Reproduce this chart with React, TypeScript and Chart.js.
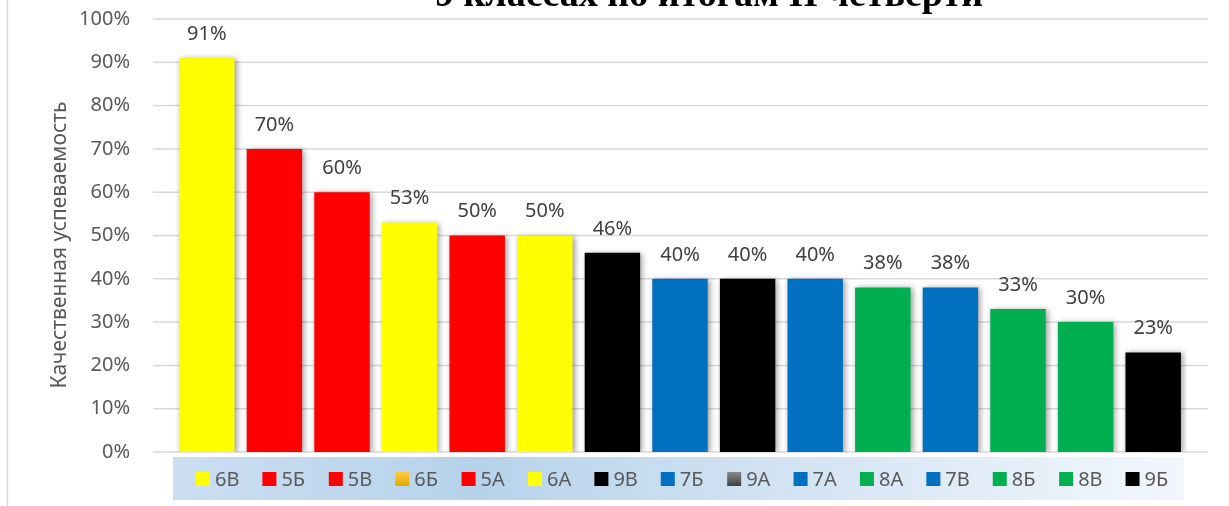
import React, { useEffect, useRef } from "react";
import { Chart, registerables } from "chart.js";

Chart.register(...registerables);

const categories = ["6В", "5Б", "5В", "6Б", "5А", "6А", "9В", "7Б", "9А", "7А", "8А", "7В", "8Б", "8В", "9Б"];
const values = [91, 70, 60, 53, 50, 50, 46, 40, 40, 40, 38, 38, 33, 30, 23];
const barColors = [
  "#FFFF00", "#FF0000", "#FF0000", "#FFFF00", "#FF0000", "#FFFF00", "#000000",
  "#0070C0", "#000000", "#0070C0", "#00B050", "#0070C0", "#00B050", "#00B050", "#000000",
];
// legend swatches: [top, bottom] gradient colours
const legendColors: [string, string][] = [
  ["#FFFF00", "#FFFF00"], ["#FF0000", "#FF0000"], ["#FF0000", "#FF0000"], ["#FFCB3D", "#E6A700"],
  ["#FF0000", "#FF0000"], ["#FFFF00", "#FFFF00"], ["#000000", "#000000"], ["#0070C0", "#0070C0"],
  ["#8A8A8A", "#404040"], ["#0070C0", "#0070C0"], ["#00B050", "#00B050"], ["#0070C0", "#0070C0"],
  ["#00B050", "#00B050"], ["#00B050", "#00B050"], ["#000000", "#000000"],
];
const yTickValues = [0, 10, 20, 30, 40, 50, 60, 70, 80, 90, 100];
const titleText = "9 классах по итогам II четверти";
const yAxisTitle = "Качественная успеваемость";

const FONT = "'Noto Sans', 'DejaVu Sans', sans-serif";

const decorPlugin = {
  id: "decor",
  beforeDraw(chart: any) {
    const { ctx, chartArea, height } = chart;
    ctx.save();
    // left border line
    ctx.strokeStyle = "#d9d9d9";
    ctx.lineWidth = 1.5;
    ctx.beginPath();
    ctx.moveTo(7.5, 0);
    ctx.lineTo(7.5, height);
    ctx.stroke();
    // title (cut off at top)
    ctx.fillStyle = "#000000";
    ctx.font = "bold 38px 'Liberation Serif', 'Times New Roman', serif";
    ctx.textAlign = "center";
    ctx.textBaseline = "alphabetic";
    ctx.fillText(titleText, 709, 5.5);
    // y axis title
    ctx.save();
    ctx.translate(60, 245);
    ctx.rotate(-Math.PI / 2);
    ctx.font = `21px ${FONT}`;
    ctx.fillStyle = "#595959";
    ctx.textAlign = "center";
    ctx.textBaseline = "middle";
    ctx.fillText(yAxisTitle, 0, 0);
    ctx.restore();
    // category strip
    const top = chartArea.bottom + 5;
    const h = 43;
    const g = ctx.createLinearGradient(chartArea.left, 0, chartArea.right, 0);
    g.addColorStop(0, "#cbdef1");
    g.addColorStop(0.3, "#b6d3eb");
    g.addColorStop(0.6, "#d3e3f3");
    g.addColorStop(1, "#f2f7fc");
    ctx.fillStyle = g;
    ctx.fillRect(chartArea.left, top, chartArea.width - 3, h);
    // legend items
    const step = chartArea.width * 0.06548;
    const cy = top + 22;
    ctx.font = `20px ${FONT}`;
    ctx.textAlign = "left";
    ctx.textBaseline = "middle";
    categories.forEach((c, i) => {
      const x = chartArea.left + 23 + i * step;
      const sg = ctx.createLinearGradient(0, cy - 7, 0, cy + 7);
      sg.addColorStop(0, legendColors[i][0]);
      sg.addColorStop(1, legendColors[i][1]);
      ctx.fillStyle = sg;
      ctx.fillRect(x, cy - 7, 14, 14);
      ctx.fillStyle = "#595959";
      ctx.fillText(c, x + 19, cy + 1);
    });
    ctx.restore();
  },
  beforeDatasetsDraw(chart: any) {
    const { ctx, chartArea, scales } = chart;
    ctx.save();
    ctx.strokeStyle = "#d9d9d9";
    ctx.lineWidth = 1.5;
    yTickValues.forEach((v) => {
      const y = scales.y.getPixelForValue(v);
      ctx.beginPath();
      ctx.moveTo(chartArea.left - 20, y);
      ctx.lineTo(chartArea.right + 21, y);
      ctx.stroke();
    });
    ctx.restore();
    ctx.save();
    ctx.shadowColor = "rgba(0,0,0,0.4)";
    ctx.shadowBlur = 6;
    ctx.shadowOffsetX = 2;
    ctx.shadowOffsetY = 1;
  },
  afterDatasetsDraw(chart: any) {
    const { ctx } = chart;
    ctx.restore();
    ctx.save();
    const meta = chart.getDatasetMeta(0);
    ctx.font = `20px ${FONT}`;
    ctx.fillStyle = "#404040";
    ctx.textAlign = "center";
    ctx.textBaseline = "middle";
    meta.data.forEach((bar: any, i: number) => {
      ctx.fillText(values[i] + "%", bar.x, bar.y - 24);
    });
    ctx.restore();
  },
};

export default function App() {
  const ref = useRef<HTMLCanvasElement | null>(null);
  useEffect(() => {
    if (!ref.current) return;
    const chart = new Chart(ref.current, {
      type: "bar",
      data: {
        labels: categories,
        datasets: [
          {
            data: values,
            backgroundColor: barColors,
            borderWidth: 0,
            categoryPercentage: 1,
            barPercentage: 0.82,
          },
        ],
      },
      options: {
        animation: false,
        responsive: true,
        maintainAspectRatio: false,
        layout: { padding: { top: 19, bottom: 54, left: 0, right: 42 } },
        plugins: { legend: { display: false }, tooltip: { enabled: false } },
        scales: {
          x: { display: false },
          y: {
            min: 0,
            max: 100,
            afterFit: (axis: any) => {
              axis.width = 173;
            },
            grid: { display: false, drawTicks: true, tickLength: 41 },
            border: { display: false },
            ticks: {
              stepSize: 10,
              padding: 2,
              color: "#595959",
              font: { family: FONT, size: 20 },
              callback: (v: any) => v + "%",
            },
          },
        },
      },
      plugins: [decorPlugin],
    });
    return () => chart.destroy();
  }, []);
  return (
    <div style={{ position: "absolute", left: 0, top: 0, width: 1229, height: 506, background: "#fff" }}>
      <canvas ref={ref} />
    </div>
  );
}
